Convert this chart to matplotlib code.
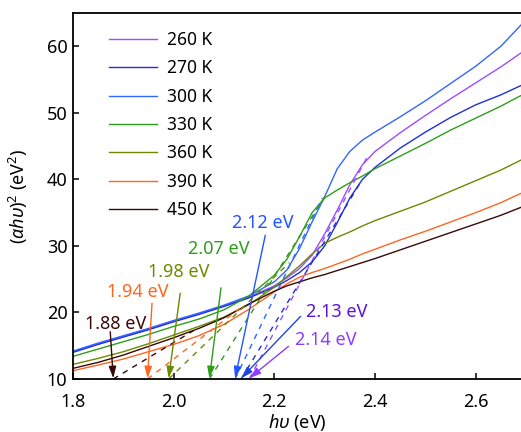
import matplotlib
matplotlib.use('Agg')
from matplotlib import pyplot as plt

plt.rcParams['font.family'] = ['Noto Sans', 'DejaVu Sans']
plt.rcParams['mathtext.fontset'] = 'custom'
plt.rcParams['mathtext.it'] = 'Noto Sans:italic'
plt.rcParams['mathtext.rm'] = 'Noto Sans'

# photon energy grid (eV)
hv = [1.80, 1.85, 1.90, 1.95, 2.00, 2.05, 2.10, 2.15, 2.20, 2.225, 2.25, 2.275,
      2.30, 2.325, 2.35, 2.375, 2.40, 2.45, 2.50, 2.55, 2.60, 2.65, 2.69]

# (alpha h nu)^2
y260 = [14.1, 15.3, 16.4, 17.5, 18.7, 19.8, 21.0, 22.3, 24.0, 25.2, 26.6, 28.6,
        31.8, 35.4, 39.2, 42.2, 44.2, 47.0, 49.6, 52.1, 54.5, 56.9, 59.0]
y270 = [14.0, 15.2, 16.3, 17.4, 18.6, 19.7, 20.9, 22.2, 23.8, 24.8, 26.0, 27.6,
        30.0, 33.5, 37.2, 40.0, 41.8, 44.7, 47.1, 49.3, 51.2, 52.7, 54.1]
y300 = [14.2, 15.4, 16.5, 17.6, 18.8, 19.9, 21.1, 22.5, 24.6, 26.4, 29.6, 33.6,
        37.4, 41.6, 44.2, 45.9, 47.1, 49.4, 51.8, 54.4, 57.0, 60.0, 63.2]
y330 = [13.4, 14.5, 15.6, 16.7, 17.9, 19.0, 20.4, 22.5, 25.6, 28.0, 31.4, 35.0,
        37.2, 38.4, 39.5, 40.5, 41.6, 43.5, 45.4, 47.4, 49.2, 51.0, 52.6]
y360 = [12.2, 13.1, 14.1, 15.3, 16.6, 17.9, 19.3, 21.2, 23.8, 25.4, 27.0, 28.8,
        30.4, 31.3, 32.1, 33.0, 33.8, 35.2, 36.6, 38.2, 39.8, 41.4, 42.9]
y390 = [11.25, 12.1, 13.0, 14.1, 15.2, 16.5, 18.2, 20.5, 23.1, 24.3, 25.3, 26.0,
        26.6, 27.3, 28.0, 28.8, 29.5, 30.9, 32.2, 33.6, 35.0, 36.5, 37.9]
y450 = [11.6, 12.5, 13.6, 14.9, 16.2, 17.6, 19.2, 21.3, 23.2, 24.0, 24.6, 25.2,
        25.7, 26.3, 26.9, 27.5, 28.1, 29.4, 30.7, 32.0, 33.3, 34.6, 35.8]

series = [
    ('260 K', y260, '#9b4dff'),
    ('270 K', y270, '#1f2fd6'),
    ('300 K', y300, '#3366ff'),
    ('330 K', y330, '#2e9e1a'),
    ('360 K', y360, '#6b8a00'),
    ('390 K', y390, '#ff6622'),
    ('450 K', y450, '#3a0808'),
]

# tangent lines: x-intercept on bottom axis and end point on the curve
tan_x0 = [2.15, 2.134, 2.122, 2.071, 1.99, 1.948, 1.88]
tan_x1 = [2.384, 2.374, 2.295, 2.30, 2.23, 2.14, 2.04]
tan_y1 = [43.3, 39.9, 37.2, 37.4, 27.5, 21.1, 17.3]

# band gap labels
gap_text = ['2.14 eV', '2.13 eV', '2.12 eV', '2.07 eV', '1.98 eV', '1.94 eV', '1.88 eV']
text_x = [2.303, 2.323, 2.178, 2.089, 2.011, 1.929, 1.884]
text_y = [15.9, 20.1, 33.4, 29.5, 26.1, 23.1, 18.3]
tail_x = [2.228, 2.252, 2.182, 2.094, 2.013, 1.957, 1.874]
tail_y = [14.9, 19.4, 31.6, 23.7, 22.9, 21.4, 17.1]
text_col = ['#8e3cff', '#5a14d8', '#2255ff', '#2e9e1a', '#6b8a00', '#ff6622', '#3a0808']
arrow_col = ['#8e3cff', '#2244dd', '#2255ff', '#2e9e1a', '#6b8a00', '#ff6622', '#3a0808']

fig = plt.figure(figsize=(5.21, 4.32), dpi=100)
ax = fig.add_axes([73 / 521, 53 / 432, 448 / 521, 366 / 432])

for (lab, y, c) in series:
    ax.plot(hv, y, color=c, lw=1.0, label=lab)

for i, (lab, y, c) in enumerate(series):
    ax.plot([tan_x0[i], tan_x1[i]], [10, tan_y1[i]], color=c, lw=1.0,
            dashes=(4, 4))

for i in range(len(gap_text)):
    ax.annotate('', xy=(tan_x0[i], 10.1), xytext=(tail_x[i], tail_y[i]),
                arrowprops=dict(arrowstyle='-|>,head_length=0.7,head_width=0.22',
                                color=arrow_col[i], lw=1.0, shrinkA=0, shrinkB=0))
    ax.text(text_x[i], text_y[i], gap_text[i], color=text_col[i], fontsize=13,
            ha='center', va='center')

ax.set_xlim(1.8, 2.69)
ax.set_ylim(10, 65)
ax.set_xticks([1.8, 2.0, 2.2, 2.4, 2.6])
ax.set_xticklabels(['1.8', '2.0', '2.2', '2.4', '2.6'])
ax.set_yticks([10, 20, 30, 40, 50, 60])
ax.tick_params(direction='in', length=4, width=1.1, labelsize=13)
ax.tick_params(axis='x', pad=10)
ax.tick_params(axis='y', pad=4)
for s in ['left', 'bottom', 'top']:
    ax.spines[s].set_linewidth(1.3)
ax.spines['right'].set_visible(False)

ax.set_xlabel(r'$\it{h\upsilon}$ (eV)', fontsize=13, labelpad=1)
ax.set_ylabel(r'($\it{\alpha h\upsilon}$)$^2$ (eV$^2$)', fontsize=13, labelpad=12)

ax.legend(loc='upper left', bbox_to_anchor=(0.06, 0.975), frameon=False,
          fontsize=12.5, handlelength=2.8, handletextpad=0.55, labelspacing=0.6,
          borderpad=0)

plt.savefig('out.png', dpi=100)
